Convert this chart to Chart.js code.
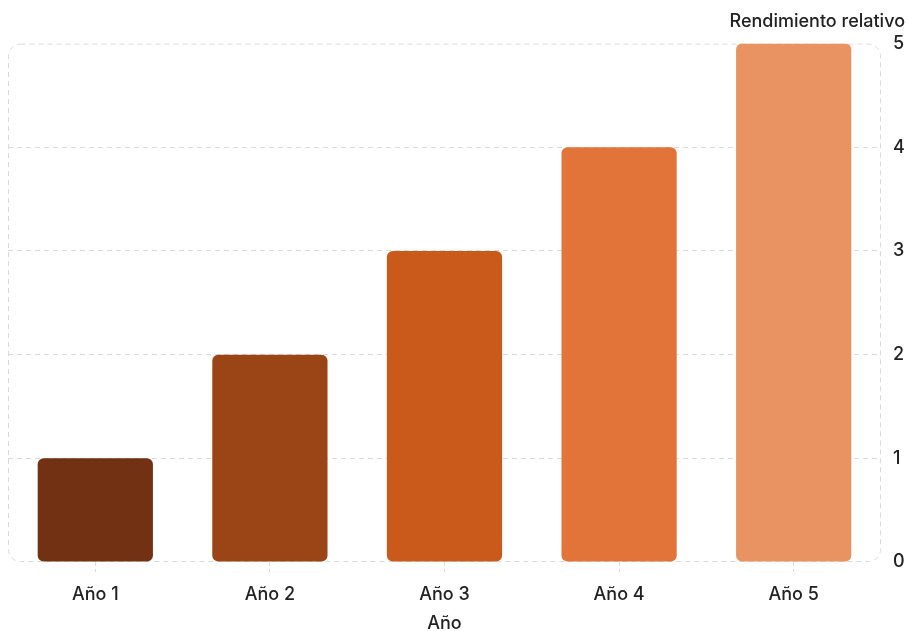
<!DOCTYPE html>
<html>
<head>
<meta charset="utf-8">
<script src="https://cdn.jsdelivr.net/npm/chart.js@4"></script>
<style>
html,body{margin:0;padding:0;background:#fff;}
#wrap{width:908px;height:631px;}
</style>
</head>
<body>
<div id="wrap"><canvas id="c"></canvas></div>
<script>
const categories = ["Año 1", "Año 2", "Año 3", "Año 4", "Año 5"];
const values = [1, 2, 3, 4, 5];
const barColors = ["#713112", "#9B4415", "#C95A1B", "#E27439", "#E99262"];
const yTitle = "Rendimiento relativo";
const xTitle = "Año";

const FONT = "Inter, 'Noto Sans', sans-serif";
const GRID = "#DADADA";
const TEXT = "#222";

const frame = {
  id: 'frame',
  beforeDatasetsDraw(chart) {
    const {ctx, chartArea: a} = chart;
    ctx.save();
    ctx.strokeStyle = GRID;
    ctx.lineWidth = 1;
    ctx.setLineDash([5, 4]);
    ctx.beginPath();
    ctx.roundRect(a.left + 0.5, a.top + 0.5, a.right - a.left - 1, a.bottom - a.top - 1, 12);
    ctx.stroke();
    ctx.restore();
  }
};

new Chart(document.getElementById('c'), {
  type: 'bar',
  data: {
    labels: categories,
    datasets: [{
      data: values,
      backgroundColor: barColors,
      borderRadius: 6,
      borderSkipped: false,
      categoryPercentage: 1,
      barPercentage: 0.66
    }]
  },
  options: {
    responsive: true,
    maintainAspectRatio: false,
    animation: false,
    layout: {padding: {left: 8, right: 3, top: 0, bottom: 0}},
    plugins: {
      legend: {display: false},
      tooltip: {enabled: false},
      title: {
        display: true,
        text: yTitle,
        align: 'end',
        color: TEXT,
        font: {family: FONT, size: 18, weight: '500'},
        padding: {top: 11, bottom: 11}
      }
    },
    scales: {
      x: {
        afterFit: (s) => { s.height = 69; },
        grid: {
          offset: false,
          drawOnChartArea: false,
          drawTicks: true,
          tickLength: 10,
          tickColor: GRID,
          tickBorderDash: [4, 3]
        },
        border: {display: false},
        ticks: {color: TEXT, font: {family: FONT, size: 18, weight: '500'}, padding: 12},
        title: {display: true, text: xTitle, color: TEXT, font: {family: FONT, size: 18, weight: '500', lineHeight: 0.8}, padding: {top: 0, bottom: 0}}
      },
      y: {
        position: 'right',
        min: 0,
        max: 5,
        afterFit: (s) => { s.width = 24; },
        grid: {
          color: (c) => (c.index === 0 || c.index === 5) ? 'rgba(0,0,0,0)' : GRID,
          drawTicks: false
        },
        border: {display: false, dash: [5, 4]},
        ticks: {stepSize: 1, color: TEXT, font: {family: FONT, size: 18, weight: '500'}, padding: 12}
      }
    }
  },
  plugins: [frame]
});
</script>
</body>
</html>
